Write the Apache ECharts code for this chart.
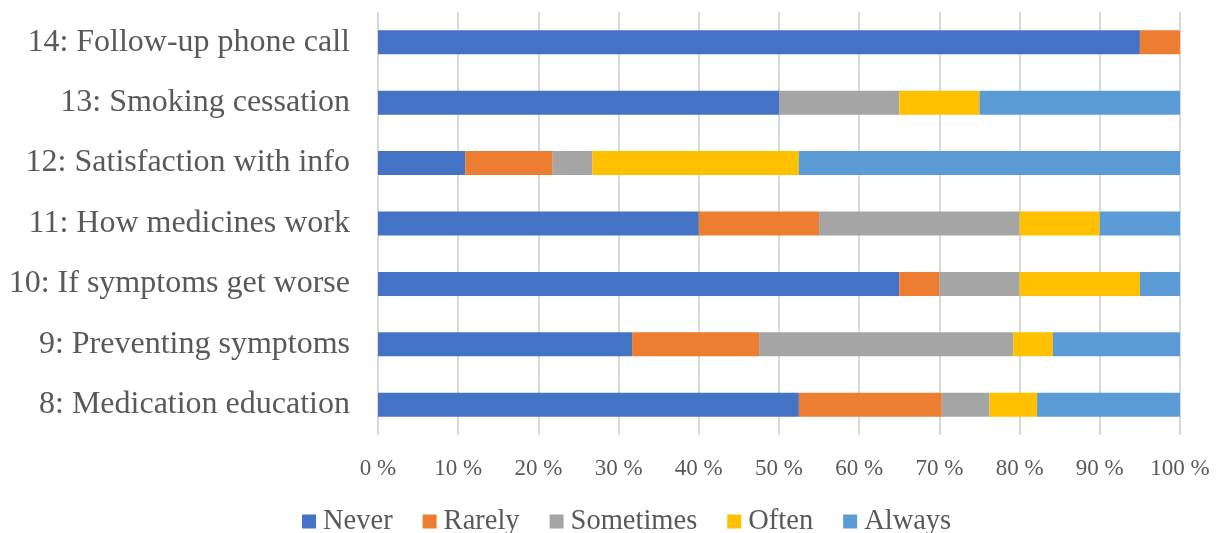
<!DOCTYPE html>
<html>
<head>
<meta charset="utf-8">
<script src="https://cdn.jsdelivr.net/npm/echarts@6/dist/echarts.min.js"></script>
<style>
  html, body { margin: 0; padding: 0; background: #fff; }
  #chart { width: 1220px; height: 533px; }
</style>
</head>
<body>
<div id="chart"></div>
<script>
// Survey items, listed bottom to top as drawn on the category axis
const categories = [
  '8: Medication education',
  '9: Preventing symptoms',
  '10: If symptoms get worse',
  '11: How medicines work',
  '12: Satisfaction with info',
  '13: Smoking cessation',
  '14: Follow-up phone call'
];

// Share of responses per answer (percent)
const never     = [52.48, 31.68, 65, 40, 10.89, 50, 95];
const rarely    = [17.82, 15.84,  5, 15, 10.89,  0,  5];
const sometimes = [ 5.94, 31.68, 10, 25,  4.95, 15,  0];
const often     = [ 5.94,  4.95, 15, 10, 25.74, 10,  0];
const always    = [17.82, 15.84,  5, 10, 47.52, 25,  0];

const xTicks = [0, 10, 20, 30, 40, 50, 60, 70, 80, 90, 100];

const seriesDefs = [
  { name: 'Never',     data: never,     color: '#4472C4' },
  { name: 'Rarely',    data: rarely,    color: '#ED7D31' },
  { name: 'Sometimes', data: sometimes, color: '#A5A5A5' },
  { name: 'Often',     data: often,     color: '#FFC000' },
  { name: 'Always',    data: always,    color: '#5B9BD5' }
];

const font = 'Liberation Serif, Times New Roman, serif';
const chart = echarts.init(document.getElementById('chart'), null, { renderer: 'canvas' });

chart.setOption({
  animation: false,
  grid: { left: 378, right: 40, top: 12, bottom: 98, containLabel: false },
  xAxis: {
    type: 'value',
    min: xTicks[0],
    max: xTicks[xTicks.length - 1],
    interval: 10,
    axisLine: { show: false },
    axisTick: { show: false },
    splitLine: { show: true, lineStyle: { color: '#D9D9D9', width: 2 } },
    axisLabel: {
      margin: 22,
      color: '#595959',
      fontFamily: font,
      fontSize: 23,
      formatter: v => v + ' %'
    }
  },
  yAxis: {
    type: 'category',
    data: categories,
    axisLine: { show: false },
    axisTick: { show: false },
    axisLabel: {
      margin: 28,
      color: '#595959',
      fontFamily: font,
      fontSize: 32
    }
  },
  legend: {
    top: 502,
    left: 297,
    itemWidth: 14,
    itemHeight: 14,
    itemGap: 30,
    icon: 'rect',
    textStyle: { color: '#595959', fontFamily: font, fontSize: 28.5, padding: [0, 0, 0, 2] },
    data: seriesDefs.map(s => s.name)
  },
  series: seriesDefs.map(s => ({
    name: s.name,
    type: 'bar',
    stack: 'total',
    barWidth: 24,
    data: s.data,
    itemStyle: { color: s.color }
  }))
});
</script>
</body>
</html>
